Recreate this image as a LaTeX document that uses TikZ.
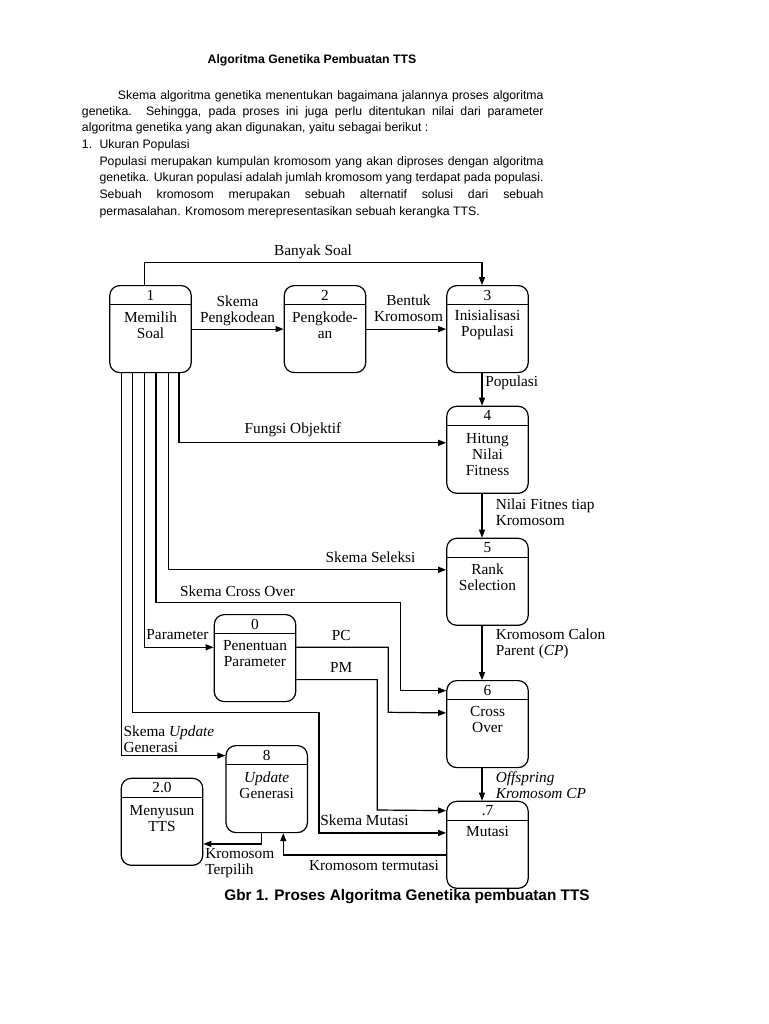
\documentclass[tikz,border=0pt]{standalone}
\usepackage{fontspec}
\setmainfont{Liberation Serif}
\newfontfamily\sansf{Liberation Sans}
\usetikzlibrary{arrows.meta,calc}
\newcommand\dfdproc[6]{%
  \node[proc, anchor=north] (#1) at (#2,#3) {};
  \draw[line width=0.9pt] ($(#1.north west)+(0,19.5)$) -- ($(#1.north east)+(0,19.5)$);
  \node[txt] (#1num) at ($(#1.north)+(0,10)$) {#4};
  \node[txt] (#1lbl) at ($(#1.north)+(0,#6)$) {#5};
}
\begin{document}
\begin{tikzpicture}[x=0.75pt,y=-0.75pt,
  proc/.style={draw, line width=0.9pt, rounded corners=7.5pt, minimum width=61.1pt, minimum height=65.25pt, inner sep=0pt},
  txt/.style={font=\fontsize{11.5pt}{12pt}\selectfont, align=center, inner sep=0pt},
  ltxt/.style={txt, align=left, anchor=west},
  para/.style={font=\sansf\fontsize{9.2pt}{12pt}\selectfont, inner sep=0pt, anchor=base west},
  flow/.style={line width=0.9pt, -{Triangle[length=6pt,width=4.5pt]}}]
\fill[white] (0,0) rectangle (768,1024);
\useasboundingbox (0,0) rectangle (768,1024);

% heading text
\node[font=\sansf\bfseries\fontsize{9.2pt}{12pt}\selectfont, inner sep=0pt] (title) at (312,60) {Algoritma Genetika Pembuatan TTS};
\node[para] (l1) at (117.7,99) {\makebox[319.2pt][s]{Skema algoritma genetika menentukan bagaimana jalannya proses algoritma}};
\node[para] (l2) at (81.7,115.7) {\makebox[346.2pt][s]{genetika. Sehingga, pada proses ini juga perlu ditentukan nilai dari parameter}};
\node[para] (l3) at (81.7,132) {algoritma genetika yang akan digunakan, yaitu sebagai berikut :};
\node[para] (l4a) at (81.7,148) {1.};
\node[para] (l4) at (99.3,148) {Ukuran Populasi};
\node[para] (l5) at (99.3,165.7) {\makebox[333pt][s]{Populasi merupakan kumpulan kromosom yang akan diproses dengan algoritma}};
\node[para] (l6) at (99.3,181.7) {\makebox[333pt][s]{genetika. Ukuran populasi adalah jumlah kromosom yang terdapat pada populasi.}};
\node[para] (l7) at (99.3,198) {\makebox[333pt][s]{Sebuah kromosom merupakan sebuah alternatif solusi dari sebuah}};
\node[para] (l8) at (99.3,215.7) {permasalahan. Kromosom merepresentasikan sebuah kerangka TTS.};

% processes
\dfdproc{p1}{150.5}{285}{1}{Memilih\\Soal}{40.3}
\dfdproc{p2}{325}{285}{2}{Pengkode-\\an}{40.3}
\dfdproc{p3}{487.5}{285}{3}{Inisialisasi\\Populasi}{40.3}
\dfdproc{p4}{487.5}{405.7}{4}{Hitung\\Nilai\\Fitness}{48.3}
\dfdproc{p5}{487.5}{537.7}{5}{Rank\\Selection}{39.3}
\dfdproc{p0}{255}{614}{0}{Penentuan\\Parameter}{39.9}
\dfdproc{p6}{487.5}{680}{6}{Cross\\Over}{39}
\dfdproc{p8}{266.7}{745}{8}{\textit{Update}\\Generasi}{40.3}
\dfdproc{p20}{162}{777.7}{2.0}{Menyusun\\TTS}{40.6}
\dfdproc{p7}{487.5}{800.7}{.7}{Mutasi}{30.3}

% flows
\draw[flow] ($(p1.north)+(-6.2,0)$) |- ($(p3.north)+(-5.5,-22.7)$) -- ($(p3.north)+(-5.5,0)$);
\draw[flow] (p1.east) -- (p2.west);
\draw[flow] (p2.east) -- (p3.west);
\draw[flow] ($(p3.south)+(-5.5,0)$) -- ($(p4.north)+(-5.5,0)$);
\draw[flow] ($(p1.south)+(28.5,0)$) |- ($(p4.west)+(0,-7)$);
\draw[flow] ($(p4.south)+(-5.5,0)$) -- ($(p5.north)+(-5.5,0)$);
\draw[flow] ($(p1.south)+(17.8,0)$) |- ($(p5.west)+(0,-12)$);
\draw[flow] ($(p1.south)+(5.5,0)$) |- (400.7,602.7) |- ($(p6.west)+(0,-33.5)$);
\draw[flow] ($(p1.south)+(-6.2,0)$) |- ($(p0.west)+(0,-10.8)$);
\draw[flow] ($(p0.east)+(0,-10.8)$) -| (388.3,712.3) -- ($(p6.west)+(0,-11.2)$);
\draw[flow] ($(p0.east)+(0,21.5)$) -| (377.3,810) -- ($(p7.west)+(0,-34.2)$);
\draw[flow] ($(p5.south)+(-5.5,0)$) -- ($(p6.north)+(-5.5,0)$);
\draw[flow] ($(p1.south)+(-17.8,0)$) |- (319,712.3) |- ($(p7.west)+(0,-11.9)$);
\draw[flow] ($(p1.south)+(-28.8,0)$) |- ($(p8.west)+(0,-33.5)$);
\draw[flow] ($(p6.south)+(-5.5,0)$) -- ($(p7.north)+(-5.5,0)$);
\draw[flow] ($(p8.south)+(-5,0)$) |- ($(p20.east)+(0,22.1)$);
\draw[flow] ($(p7.west)+(0,10.1)$) -| ($(p8.south)+(16.6,0)$);

% flow labels
\node[txt] (lBS) at (313,251.7) {Banyak Soal};
\node[txt] (lSP) at (237.5,310.5) {Skema\\Pengkodean};
\node[txt] (lBK) at (408.5,308.5) {Bentuk\\Kromosom};
\node[ltxt] (lPop) at (485,383) {Populasi};
\node[txt] (lFO) at (293,430) {Fungsi Objektif};
\node[ltxt] (lNF) at (495.5,512.7) {Nilai Fitnes tiap\\Kromosom};
\node[txt] (lSS) at (370.5,557.7) {Skema Seleksi};
\node[txt] (lSCO) at (237.5,591) {Skema Cross Over};
\node[txt] (lPar) at (177.5,635) {Parameter};
\node[txt] (lPC) at (341.3,635) {PC};
\node[txt] (lPM) at (341.3,667.7) {PM};
\node[ltxt] (lKC) at (495.5,643.5) {Kromosom Calon\\Parent (\textit{CP})};
\node[ltxt] (lSU) at (123.3,739.5) {Skema \textit{Update}\\Generasi};
\node[ltxt] (lOff) at (495.5,785) {\textit{Offspring}\\\textit{Kromosom CP}};
\node[txt] (lSM) at (364.5,820) {Skema Mutasi};
\node[ltxt] (lKT) at (205,862.7) {Kromosom\\Terpilih};
\node[txt] (lKtm) at (374,865) {Kromosom termutasi};

% caption
\node[font=\sansf\bfseries\fontsize{11.5pt}{12pt}\selectfont, inner sep=0pt] (cap) at (407,897) {Gbr 1. Proses Algoritma Genetika pembuatan TTS};
\end{tikzpicture}
\end{document}
